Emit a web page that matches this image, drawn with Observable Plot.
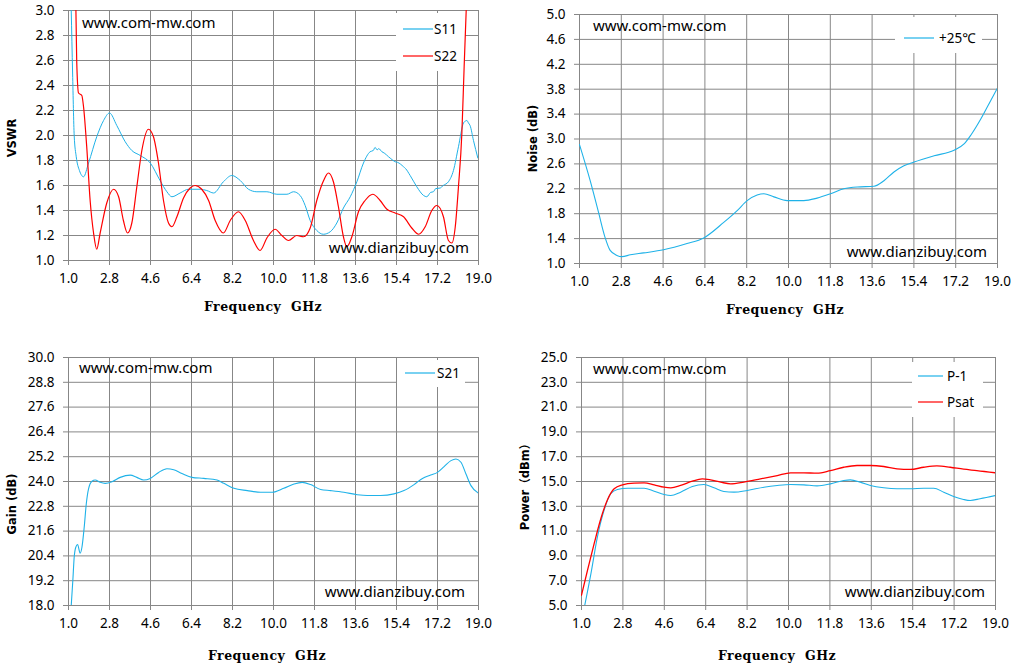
<!DOCTYPE html>
<html><head><meta charset="utf-8">
<script src="https://cdn.jsdelivr.net/npm/d3@7"></script>
<script src="https://cdn.jsdelivr.net/npm/@observablehq/plot@0.6"></script>
<style>
html,body{margin:0;padding:0;background:#fff;}
#wrap{position:relative;width:1015px;height:670px;overflow:hidden;background:#fff;}
#wrap svg{position:absolute;}
</style></head><body><div id="wrap"></div>
<script>
// ---------- data ----------
const xTicks = [1.0, 2.8, 4.6, 6.4, 8.2, 10.0, 11.8, 13.6, 15.4, 17.2, 19.0];
const vswrTicks = [1.0, 1.2, 1.4, 1.6, 1.8, 2.0, 2.2, 2.4, 2.6, 2.8, 3.0];
const noiseTicks = [1.0, 1.4, 1.8, 2.2, 2.6, 3.0, 3.4, 3.8, 4.2, 4.6, 5.0];
const gainTicks = [18.0, 19.2, 20.4, 21.6, 22.8, 24.0, 25.2, 26.4, 27.6, 28.8, 30.0];
const powerTicks = [5.0, 7.0, 9.0, 11.0, 13.0, 15.0, 17.0, 19.0, 21.0, 23.0, 25.0];

const vswrLegend = ["S11", "S22"];
const noiseLegend = ["+25℃"];
const gainLegend = ["S21"];
const powerLegend = ["P-1", "Psat"];

const s11F = [1.08,1.12,1.18,1.25,1.34,1.48,1.66,1.88,2.24,2.54,2.80,3.12,3.49,3.78,4.15,4.59,5.02,5.32,5.54,5.90,6.27,6.78,7.07,7.37,7.80,8.17,8.54,8.90,9.27,9.71,10.15,10.59,10.88,11.17,11.39,11.61,11.90,12.19,12.49,12.78,13.07,13.37,13.66,13.95,14.24,14.38,14.46,14.55,14.62,14.76,14.86,15.05,15.15,15.34,15.45,15.71,15.80,16.00,16.29,16.59,16.73,16.90,17.02,17.12,17.32,17.45,17.68,17.90,18.12,18.34,18.42,18.49,18.56,18.63,18.78,18.97];
const s11V = [3.30,3.00,2.50,2.00,1.83,1.72,1.67,1.78,1.99,2.12,2.18,2.08,1.95,1.88,1.84,1.78,1.64,1.55,1.51,1.54,1.57,1.57,1.56,1.54,1.63,1.68,1.64,1.57,1.55,1.55,1.53,1.53,1.55,1.52,1.44,1.32,1.24,1.21,1.23,1.30,1.42,1.51,1.63,1.78,1.87,1.88,1.905,1.885,1.895,1.87,1.86,1.83,1.815,1.79,1.785,1.75,1.735,1.68,1.59,1.52,1.51,1.545,1.55,1.575,1.58,1.60,1.63,1.72,1.91,2.10,2.115,2.12,2.10,2.08,1.96,1.82];

const s22F = [1.30,1.36,1.44,1.585,1.66,1.80,1.95,2.10,2.24,2.39,2.68,2.98,3.20,3.41,3.59,3.78,4.00,4.22,4.51,4.73,4.95,5.17,5.39,5.54,5.76,6.05,6.34,6.56,6.85,7.15,7.44,7.80,8.10,8.46,8.76,9.12,9.41,9.71,10.07,10.37,10.66,11.02,11.32,11.61,11.90,12.20,12.41,12.63,12.85,13.07,13.22,13.44,13.73,14.02,14.36,14.68,14.98,15.34,15.71,16.07,16.37,16.66,16.95,17.17,17.46,17.68,17.83,17.98,18.12,18.27,18.37,18.46,18.52];
const s22V = [3.30,2.60,2.34,2.32,2.23,1.91,1.48,1.22,1.09,1.22,1.46,1.57,1.51,1.32,1.22,1.30,1.59,1.88,2.05,1.99,1.78,1.48,1.30,1.27,1.35,1.50,1.58,1.60,1.57,1.48,1.32,1.22,1.32,1.39,1.32,1.16,1.08,1.18,1.25,1.20,1.16,1.20,1.19,1.26,1.48,1.64,1.70,1.63,1.43,1.19,1.11,1.19,1.39,1.48,1.53,1.48,1.41,1.38,1.35,1.26,1.21,1.27,1.40,1.44,1.35,1.16,1.14,1.27,1.59,2.02,2.55,3.00,3.30];

const noiseF = [1.0,1.46,1.82,2.10,2.32,2.61,2.83,3.19,3.76,4.62,5.63,6.35,7.21,7.79,8.22,8.65,8.94,9.37,9.94,10.66,11.23,11.81,12.38,12.96,13.68,14.11,14.54,14.97,15.41,16.27,17.13,17.56,17.85,18.28,18.71,19.0];
const noiseV = [2.91,2.33,1.82,1.42,1.21,1.13,1.11,1.14,1.17,1.22,1.32,1.41,1.66,1.85,2.01,2.10,2.12,2.07,2.01,2.01,2.05,2.12,2.20,2.23,2.24,2.33,2.47,2.57,2.63,2.73,2.82,2.92,3.06,3.32,3.62,3.82];

const gainF = [1.12,1.19,1.25,1.32,1.40,1.51,1.59,1.69,1.78,1.88,2.03,2.17,2.39,2.61,2.91,3.27,3.71,4.00,4.30,4.59,4.96,5.32,5.62,5.98,6.42,6.94,7.52,7.82,8.26,8.85,9.43,9.95,10.45,10.90,11.26,11.63,12.07,12.51,13.09,13.68,14.12,14.70,15.29,15.73,16.17,16.54,16.90,17.20,17.49,17.79,18.01,18.23,18.45,18.67,19.0];
const gainV = [18.0,19.21,20.34,20.82,20.95,20.53,20.82,21.79,22.91,23.64,24.01,24.07,23.96,23.91,23.99,24.20,24.31,24.20,24.07,24.15,24.44,24.62,24.57,24.39,24.20,24.15,24.07,23.91,23.67,23.56,23.48,23.48,23.67,23.88,23.96,23.85,23.61,23.56,23.48,23.36,23.32,23.32,23.40,23.56,23.85,24.15,24.31,24.44,24.72,25.01,25.09,24.93,24.36,23.80,23.43];

const p1F = [1.14,1.41,1.69,1.98,2.27,2.56,3.0,3.72,4.16,4.59,4.88,5.31,5.82,6.32,6.76,7.19,7.63,8.21,8.93,9.51,10.09,10.67,11.24,11.82,12.40,12.69,13.12,13.56,14.14,14.72,15.30,15.88,16.31,16.75,17.18,17.61,17.90,18.33,19.0];
const p1V = [5.0,7.57,10.52,12.67,14.01,14.36,14.46,14.46,14.22,13.95,13.87,14.14,14.60,14.76,14.49,14.20,14.14,14.28,14.54,14.68,14.76,14.73,14.65,14.81,15.08,15.13,14.95,14.68,14.49,14.41,14.41,14.46,14.46,14.14,13.79,13.55,13.47,13.61,13.87];

const psatF = [1.0,1.26,1.55,1.84,2.13,2.42,2.78,3.29,3.72,4.16,4.59,4.88,5.31,5.82,6.25,6.61,7.05,7.48,8.06,8.78,9.51,10.09,10.67,11.24,11.82,12.40,12.98,13.56,14.14,14.72,15.30,15.88,16.45,17.03,17.61,18.19,19.0];
const psatV = [5.83,7.84,9.99,12.0,13.53,14.41,14.73,14.87,14.89,14.73,14.54,14.49,14.68,15.03,15.21,15.13,14.95,14.81,14.95,15.21,15.48,15.70,15.70,15.67,15.88,16.15,16.29,16.29,16.21,16.02,15.97,16.15,16.26,16.15,15.99,15.88,15.70];

// ---------- style ----------
const BLUE = "#1FB2E8", RED = "#FF0000", GRID = "#878787";
const SANS = "'Noto Sans', 'DejaVu Sans', sans-serif";
const zipData = (fs, vs) => fs.map((f, i) => ({f, v: vs[i]}));

function label(str, o) {
  return (index, scales, values, d) => {
    const fx = d.marginLeft + o.ax * (d.width - d.marginLeft - d.marginRight);
    const fy = d.marginTop + o.ay * (d.height - d.marginTop - d.marginBottom);
    const t = d3.create("svg:text")
      .attr("transform", `translate(${fx + o.dx},${fy + o.dy}) rotate(${o.rotate || 0})`)
      .attr("text-anchor", o.anchor || "middle")
      .attr("dy", "0.35em")
      .attr("font-family", o.font || SANS)
      .attr("font-size", o.size || 14)
      .attr("font-weight", o.weight || "normal")
      .attr("fill", "#000")
      .style("letter-spacing", (o.spacing || 0) + "px")
      .style("white-space", "pre")
      .text(str);
    return t.node();
  };
}

function legendMark(labels, colors, b) {
  return (index, scales, values, d) => {
    const x0 = d.width - d.marginRight - b.right - b.w;
    const y0 = d.marginTop + b.top;
    const g = d3.create("svg:g");
    g.append("rect").attr("x", x0).attr("y", y0).attr("width", b.w).attr("height", b.h).attr("fill", "#fff");
    labels.forEach((lab, i) => {
      const yy = y0 + b.rows[i];
      g.append("line").attr("x1", x0 + b.l1).attr("x2", x0 + b.l2).attr("y1", yy).attr("y2", yy)
        .attr("stroke", colors[i]).attr("stroke-width", 1.2);
      g.append("text").attr("x", x0 + b.tx).attr("y", yy).attr("dy", "0.35em")
        .attr("text-anchor", "start")
        .attr("font-family", SANS)
        .attr("font-size", 13.5).attr("fill", "#000").text(lab);
    });
    return g.node();
  };
}

function panel(p) {
  const fmt = d => d.toFixed(1);
  const svg = Plot.plot({
    width: p.width, height: p.height,
    marginTop: p.m[0], marginRight: p.m[1], marginBottom: p.m[2], marginLeft: p.m[3],
    style: {fontFamily: SANS, fontSize: "13.5px", color: "#000", background: "transparent", overflow: "visible"},
    x: {domain: [1, 19], label: null},
    y: {domain: p.yDomain, label: null},
    marks: [
      Plot.gridX(xTicks, {stroke: GRID, strokeOpacity: 1, strokeWidth: 1}),
      Plot.gridY(p.yTicks, {stroke: GRID, strokeOpacity: 1, strokeWidth: 1}),
      Plot.axisX(xTicks, {tickSize: 5, tickPadding: 8, stroke: GRID, strokeOpacity: 1, fill: "#000", tickFormat: fmt, label: null, fontSize: 13.5}),
      Plot.axisY(p.yTicks, {tickSize: 5, tickPadding: 9, stroke: GRID, strokeOpacity: 1, fill: "#000", tickFormat: fmt, label: null, fontSize: 13.5}),
      legendMark(p.legend, p.series.map(s => s.color), p.box),
      ...p.series.map(s => Plot.line(s.data, {x: "f", y: "v", stroke: s.color, strokeWidth: s.w || 1.1, curve: "monotone-x", clip: true})),
      label("www.com-mw.com", {ax: 0, ay: 0, dx: p.wm1[0], dy: p.wm1[1], anchor: "start", size: 15}),
      label("www.dianzibuy.com", {ax: 1, ay: 1, dx: p.wm2[0], dy: p.wm2[1], anchor: "end", size: 15}),
      label("Frequency  GHz", {ax: 0.5, ay: 1, dx: p.xt[0], dy: p.xt[1], font: "'DejaVu Serif', serif", weight: "bold", size: 12.5, spacing: 0.5}),
      label(p.yLabel, {ax: 0, ay: 0.5, dx: p.yt[0], dy: p.yt[1], rotate: -90, font: "'DejaVu Sans', 'Noto Sans CJK SC', sans-serif", weight: "bold", size: 11.5})
    ]
  });
  svg.style.left = p.left + "px";
  svg.style.top = p.top + "px";
  document.getElementById("wrap").appendChild(svg);
}

panel({
  left: 0, top: 0, width: 507, height: 330, m: [10, 29, 70, 68],
  yDomain: [1, 3], yTicks: vswrTicks, yLabel: "VSWR",
  legend: vswrLegend,
  series: [{data: zipData(s11F, s11V), color: BLUE, w: 1}, {data: zipData(s22F, s22V), color: RED, w: 1.2}],
  box: {right: 13, top: 3, w: 69, h: 58, l1: 7, l2: 37, tx: 38, rows: [16, 43]},
  wm1: [14, 13], wm2: [-9, -12], xt: [-10, 47], yt: [-56, 3]
});
panel({
  left: 507, top: 0, width: 508, height: 330, m: [14, 18, 67, 72],
  yDomain: [1, 5], yTicks: noiseTicks, yLabel: "Noise (dB)",
  legend: noiseLegend,
  series: [{data: zipData(noiseF, noiseV), color: BLUE, w: 1.1}],
  box: {right: 15, top: 3, w: 87, h: 36, l1: 9, l2: 39, tx: 44, rows: [21]},
  wm1: [14, 12], wm2: [-10, -11], xt: [-3, 47], yt: [-46, 0]
});
panel({
  left: 0, top: 330, width: 507, height: 340, m: [27, 29, 65, 68],
  yDomain: [18, 30], yTicks: gainTicks, yLabel: "Gain (dB)",
  legend: gainLegend,
  series: [{data: zipData(gainF, gainV), color: BLUE, w: 1.1}],
  box: {right: 13, top: 3, w: 68, h: 27, l1: 8, l2: 38, tx: 40, rows: [13]},
  wm1: [11, 11], wm2: [-13, -13], xt: [-6, 51], yt: [-56, 23]
});
panel({
  left: 507, top: 330, width: 508, height: 340, m: [27, 20, 65, 74],
  yDomain: [5, 25], yTicks: powerTicks, yLabel: "Power（dBm）",
  legend: powerLegend,
  series: [{data: zipData(p1F, p1V), color: BLUE, w: 1.1}, {data: zipData(psatF, psatV), color: RED, w: 1.3}],
  box: {right: 12, top: 5, w: 71, h: 55, l1: 6, l2: 31, tx: 35, rows: [14, 40]},
  wm1: [12, 12], wm2: [-10, -13], xt: [-11, 51], yt: [-56, 3]
});
</script></body></html>
